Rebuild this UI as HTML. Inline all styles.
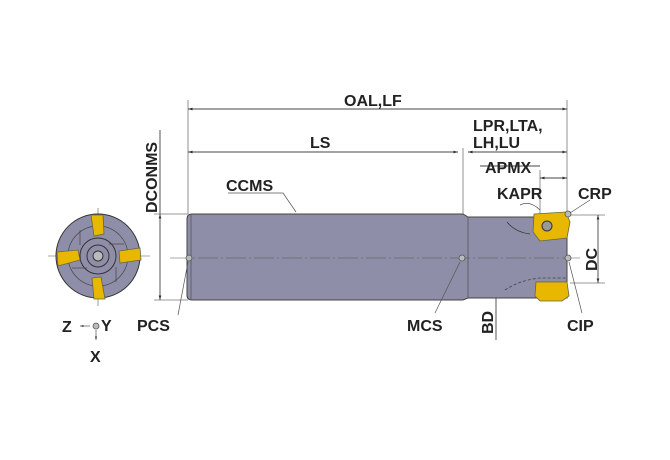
<!DOCTYPE html>
<html><head><meta charset="utf-8"><style>
html,body{margin:0;padding:0;background:#fff;width:670px;height:460px;overflow:hidden}
text{font-family:"Liberation Sans",Arial,sans-serif;font-weight:bold;fill:#222;font-size:16px}
</style></head><body>
<svg width="670" height="460" viewBox="0 0 670 460" xmlns="http://www.w3.org/2000/svg">
<defs>
<marker id="a" viewBox="0 0 10 10" refX="10" refY="5" markerWidth="8" markerHeight="5" orient="auto-start-reverse"><path d="M0,2 L10,5 L0,8z" fill="#333"/></marker>
</defs>
<g stroke="#777" stroke-width="0.8" fill="none">
<line x1="188" y1="100" x2="188" y2="214"/>
<line x1="567" y1="100" x2="567" y2="215"/>
<line x1="463" y1="148" x2="463" y2="258"/>
<line x1="154" y1="214" x2="188" y2="214"/>
<line x1="154" y1="300" x2="188" y2="300"/>
<line x1="567" y1="215" x2="605" y2="215"/>
<line x1="570" y1="283" x2="605" y2="283"/>
<line x1="540" y1="170" x2="540" y2="215"/>
</g>
<g stroke="#444" stroke-width="0.9" fill="none">
<line x1="188" y1="109" x2="567" y2="109" marker-start="url(#a)" marker-end="url(#a)"/>
<line x1="188" y1="152" x2="458" y2="152" marker-start="url(#a)" marker-end="url(#a)"/>
<line x1="468" y1="152" x2="567" y2="152" marker-start="url(#a)" marker-end="url(#a)"/>
<line x1="540" y1="178" x2="567" y2="178" marker-start="url(#a)" marker-end="url(#a)"/>
<line x1="480" y1="166" x2="540" y2="166"/>
<line x1="160" y1="214" x2="160" y2="300" marker-start="url(#a)" marker-end="url(#a)"/>
<line x1="160" y1="130" x2="160" y2="214"/>
<line x1="496" y1="217" x2="496" y2="298" marker-start="url(#a)" marker-end="url(#a)"/>
<line x1="496" y1="298" x2="496" y2="340"/>
<line x1="598" y1="215" x2="598" y2="283" marker-start="url(#a)" marker-end="url(#a)"/>
</g>
<path d="M192,214 L463,214 L468,217 L567,217 L567,298 L468,298 L463,300 L192,300 Q187,300 187,295 L187,219 Q187,214 192,214z" fill="#8e8ea8" stroke="#444" stroke-width="1"/>
<line x1="191" y1="215" x2="191" y2="299" stroke="#555" stroke-width="0.8"/>
<line x1="468" y1="217" x2="468" y2="298" stroke="#555" stroke-width="0.8"/>
<path d="M507,222 Q515,232 530,234" fill="none" stroke="#333" stroke-width="0.8"/>
<path d="M505,290 Q520,280 540,278 L567,278" fill="none" stroke="#444" stroke-width="0.8" stroke-dasharray="3,2"/>
<path d="M534,214 L566,212 L570,222 L567,238 L540,241 L533,232z" fill="#e8b800" stroke="#664" stroke-width="0.8"/>
<circle cx="547" cy="226" r="5" fill="#999" stroke="#333"/>
<path d="M536,282 L567,282 L569,296 L562,301 L540,301 L535,296z" fill="#e8b800" stroke="#664" stroke-width="0.8"/>
<line x1="170" y1="258" x2="580" y2="258" stroke="#555" stroke-width="0.6" stroke-dasharray="20,3,2,3"/>
<g fill="#bbb" stroke="#555" stroke-width="0.8">
<circle cx="189" cy="258" r="3"/><circle cx="462" cy="258" r="3"/><circle cx="568" cy="258" r="3"/><circle cx="568" cy="214" r="3"/><circle cx="96" cy="326" r="3"/>
</g>
<g stroke="#555" stroke-width="0.7" fill="none">
<line x1="178" y1="315" x2="188" y2="262"/>
<line x1="435" y1="313" x2="460" y2="262"/>
<line x1="582" y1="313" x2="569" y2="262"/>
<line x1="590" y1="200" x2="570" y2="213"/>
<path d="M520,205 Q530,200 540,210"/>
<line x1="228" y1="193" x2="283" y2="193"/>
<line x1="283" y1="193" x2="296" y2="212"/>
<line x1="90" y1="326" x2="80" y2="326" marker-end="url(#a)"/>
<line x1="96" y1="330" x2="96" y2="340" marker-end="url(#a)"/>
</g>
<line x1="48" y1="256" x2="150" y2="256" stroke="#555" stroke-width="0.6"/>
<line x1="98" y1="208" x2="98" y2="306" stroke="#555" stroke-width="0.6"/>
<circle cx="98" cy="256" r="42" fill="#8e8ea8" stroke="#333"/>
<circle cx="98" cy="256" r="30" fill="none" stroke="#444" stroke-width="0.7"/>
<circle cx="98" cy="256" r="18" fill="none" stroke="#333"/>
<circle cx="98" cy="256" r="11" fill="none" stroke="#333"/>
<circle cx="98" cy="256" r="5" fill="#bbb" stroke="#333"/>
<g stroke="#444" stroke-width="0.7">
<line x1="80" y1="230" x2="80" y2="245"/><line x1="116" y1="267" x2="116" y2="282"/>
<line x1="72" y1="268" x2="87" y2="268"/><line x1="109" y1="244" x2="124" y2="244"/>
</g>
<g fill="#e8b800" stroke="#664" stroke-width="0.8">
<path d="M91,215 L103,215 L104,234 L94,236z"/>
<path d="M92,278 L101,277 L105,299 L94,299z"/>
<path d="M57,252 L78,250 L80,260 L58,266z"/>
<path d="M119,251 L140,248 L141,260 L120,263z"/>
</g>
<text x="344" y="106">OAL,LF</text>
<text x="310" y="148">LS</text>
<text x="473" y="131">LPR,LTA,</text>
<text x="473" y="148">LH,LU</text>
<text x="485" y="173">APMX</text>
<text x="497" y="199">KAPR</text>
<text x="578" y="199">CRP</text>
<text x="226" y="191">CCMS</text>
<text x="137" y="331">PCS</text>
<text x="407" y="331">MCS</text>
<text x="567" y="331">CIP</text>
<text x="62" y="332">Z</text>
<text x="101" y="331">Y</text>
<text x="90" y="362">X</text>
<text transform="translate(157,213) rotate(-90)">DCONMS</text>
<text transform="translate(493,334) rotate(-90)">BD</text>
<text transform="translate(597,271) rotate(-90)">DC</text>
</svg>
</body></html>
